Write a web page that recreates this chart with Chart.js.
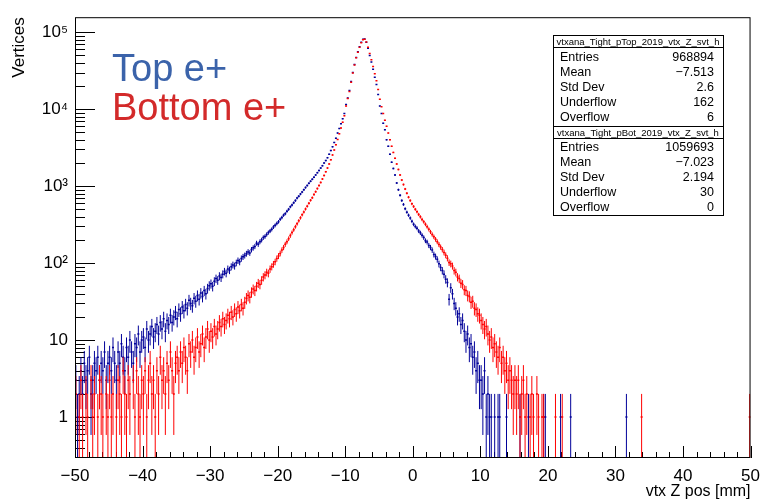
<!DOCTYPE html>
<html lang="en">
<head>
<meta charset="UTF-8">
<title>vtx Z pos - Top / Bottom e+</title>
<script src="https://cdn.jsdelivr.net/npm/chart.js"></script>
<style>
  body { margin: 0; background: #fff; }
  #wrap { width: 768px; height: 501px; }
</style>
</head>
<body>
<div id="wrap"><canvas id="zChart" width="768" height="501"></canvas></div>
<script>
// histogram binning (0.25 mm bins from -50 to 50)
const xMin = -50, xMax = 50, binWidth = 0.25;
const yMin = 0.294, yMax = 1.57e5;

// Top e+ counts per bin (20 bins = 5 mm per row)
const topCounts = [
  3, 1, 2, 4, 2, 5, 3, 4, 6, 2, 3, 5, 4, 6, 3, 5, 4, 7, 3, 5,
  6, 4, 8, 5, 3, 7, 5, 9, 6, 4, 8, 6, 10, 7, 5, 9, 8, 12, 7, 10,
  11, 8, 14, 10, 12, 15, 11, 13, 16, 12, 17, 14, 19, 13, 18, 16, 21, 17, 20, 23,
  19, 25, 22, 27, 24, 29, 26, 33, 30, 28, 35, 32, 38, 34, 41, 37, 44, 40, 47, 51,
  54, 50, 58, 63, 60, 68, 65, 72, 78, 74, 84, 81, 90, 95, 92, 101, 108, 104, 115, 121,
  126, 133, 140, 136, 150, 158, 165, 182, 176, 190, 200, 215, 222, 236, 250, 262, 275, 295, 310, 328,
  345, 372, 392, 420, 440, 472, 500, 540, 570, 610, 650, 700, 740, 790, 840, 900, 960, 1020, 1090, 1160,
  1230, 1310, 1400, 1500, 1600, 1720, 1850, 2000, 2150, 2350, 2600, 2900, 3250, 3700, 4200, 4900, 5600, 6500, 7500, 8800,
  11500, 14000, 17500, 23000, 30000, 38000, 47000, 56000, 65000, 74000, 81000, 82000, 74000, 62000, 50000, 41000, 33000, 26000, 21000, 15500,
  11000, 8800, 6600, 5400, 4000, 3300, 2600, 2050, 1700, 1400, 1100, 900, 760, 650, 580, 510, 460, 420, 385, 350,
  320, 300, 285, 262, 248, 230, 215, 196, 188, 170, 160, 148, 130, 122, 112, 98, 88, 80, 72, 62,
  56, 34, 48, 40, 30, 26, 20, 22, 16, 18, 13, 10, 12, 8, 9, 6, 7, 4, 5, 3,
  3, 2, 4, 1, 2, 1, 1, 0, 1, 0, 1, 1, 0, 0, 0, 1, 0, 0, 0, 0,
  0, 0, 0, 1, 0, 0, 0, 0, 1, 0, 0, 0, 0, 0, 0, 0, 0, 1, 1, 0,
  0, 0, 0, 0, 0, 0, 0, 1, 0, 0, 0, 0, 0, 1, 0, 0, 0, 0, 0, 0,
  0, 0, 0, 0, 0, 0, 0, 0, 0, 0, 0, 0, 0, 0, 0, 0, 0, 0, 0, 0,
  0, 0, 0, 0, 0, 0, 1, 0, 0, 0, 0, 0, 0, 0, 0, 0, 0, 0, 0, 0,
  0, 0, 0, 0, 0, 0, 0, 0, 0, 0, 0, 0, 0, 0, 0, 0, 0, 0, 0, 0,
  0, 0, 0, 0, 0, 0, 0, 0, 0, 0, 0, 0, 0, 0, 0, 0, 0, 0, 0, 0,
  0, 0, 0, 0, 0, 0, 0, 0, 0, 0, 0, 0, 0, 0, 0, 0, 0, 0, 0, 0
];

// Bottom e+ counts per bin
const botCounts = [
  2, 0, 1, 3, 1, 0, 2, 1, 0, 3, 1, 2, 0, 1, 3, 2, 1, 0, 2, 1,
  3, 1, 2, 0, 1, 3, 2, 1, 4, 2, 1, 3, 2, 0, 3, 1, 4, 2, 1, 3,
  2, 4, 1, 3, 5, 2, 3, 1, 4, 2, 6, 3, 4, 2, 5, 3, 7, 4, 2, 5,
  6, 4, 7, 5, 8, 6, 4, 9, 7, 10, 6, 8, 11, 7, 9, 12, 8, 11, 14, 10,
  13, 11, 15, 12, 14, 17, 15, 19, 16, 18, 21, 19, 23, 20, 25, 22, 27, 24, 29, 26,
  31, 35, 38, 36, 42, 46, 44, 50, 55, 53, 60, 66, 70, 76, 74, 84, 90, 97, 104, 115,
  124, 134, 148, 160, 176, 190, 208, 228, 250, 272, 298, 325, 355, 388, 425, 462, 505, 550, 600, 655,
  710, 780, 850, 930, 1020, 1120, 1240, 1380, 1540, 1720, 1950, 2200, 2550, 2950, 3450, 4050, 4800, 5700, 6800, 8200,
  11000, 13800, 17000, 22500, 29500, 37500, 46500, 55000, 64000, 73000, 80000, 81000, 75000, 64000, 53000, 44000, 36000, 29000, 23500, 18000,
  13500, 10800, 8800, 7200, 6000, 4900, 4000, 3300, 2750, 2300, 1950, 1650, 1400, 1200, 1050, 920, 810, 720, 650, 590,
  545, 500, 465, 430, 400, 370, 345, 320, 298, 275, 255, 236, 220, 204, 190, 175, 162, 150, 138, 127,
  116, 102, 98, 92, 80, 76, 66, 63, 55, 53, 45, 44, 38, 37, 31, 32, 26, 25, 22, 21,
  18, 16, 14, 15, 12, 10, 11, 8, 9, 7, 6, 8, 5, 6, 4, 5, 3, 4, 3, 2,
  3, 2, 3, 1, 2, 3, 1, 2, 0, 1, 2, 1, 0, 2, 1, 0, 1, 1, 0, 0,
  0, 0, 0, 0, 1, 0, 0, 0, 1, 0, 0, 0, 0, 0, 0, 0, 0, 0, 0, 0,
  0, 0, 0, 0, 0, 0, 0, 0, 0, 0, 0, 0, 0, 0, 0, 0, 0, 0, 0, 0,
  0, 0, 0, 0, 0, 0, 0, 0, 0, 0, 0, 0, 0, 0, 0, 1, 0, 0, 0, 0,
  0, 0, 0, 0, 0, 0, 0, 0, 0, 0, 0, 0, 0, 0, 0, 0, 0, 0, 0, 0,
  0, 0, 0, 0, 0, 0, 0, 0, 0, 0, 0, 0, 0, 0, 0, 0, 0, 0, 0, 0,
  0, 0, 0, 0, 0, 0, 0, 0, 0, 0, 0, 0, 0, 0, 0, 0, 0, 0, 0, 1
];

const xTickValues = [-50, -40, -30, -20, -10, 0, 10, 20, 30, 40, 50];
const yTickValues = [1, 10, 100, 1000, 10000, 100000];
const yTickLabels = ['1', '10', '10\u00B2', '10\u00B3', '10\u2074', '10\u2075'];

const topStats = [['Entries', '968894'], ['Mean', '\u22127.513'], ['Std Dev', '2.6'], ['Underflow', '162'], ['Overflow', '6']];
const botStats = [['Entries', '1059693'], ['Mean', '\u22127.023'], ['Std Dev', '2.194'], ['Underflow', '30'], ['Overflow', '0']];

const topColor = '#000099';
const botColor = '#ff0000';

function toPoints(counts) {
  const pts = [];
  counts.forEach((c, i) => {
    if (c > 0) pts.push({ x: xMin + binWidth * (i + 0.5), y: c });
  });
  return pts;
}

const FONT = 'Liberation Sans, Arial, sans-serif';

function drawStatBox(ctx, top, title, rows, rowYs, bottom) {
  const left = 553, right = 723;
  ctx.fillStyle = '#fff';
  ctx.fillRect(left, top, right - left, bottom - top);
  ctx.strokeStyle = '#000';
  ctx.lineWidth = 1;
  ctx.strokeRect(left + 0.5, top + 0.5, right - left, bottom - top);
  ctx.beginPath();
  ctx.moveTo(left, top + 12.5); ctx.lineTo(right, top + 12.5);
  ctx.stroke();
  ctx.fillStyle = '#000';
  ctx.textBaseline = 'middle';
  ctx.textAlign = 'center';
  ctx.font = '9.5px ' + FONT;
  ctx.fillText(title, (left + right) / 2, top + 7, right - left - 6);
  ctx.font = '12.5px ' + FONT;
  rows.forEach((r, i) => {
    ctx.textAlign = 'left';
    ctx.fillText(r[0], 560, rowYs[i]);
    ctx.textAlign = 'right';
    ctx.fillText(r[1], 714, rowYs[i]);
  });
}

const rootStyle = {
  id: 'rootStyle',
  beforeDatasetsDraw(chart) {
    const { ctx, chartArea: a, scales: { x, y } } = chart;
    ctx.save();
    ctx.strokeStyle = '#000';
    ctx.lineWidth = 1;
    ctx.beginPath();
    // x ticks, inward from the bottom
    for (let v = xMin; v <= xMax; v += 2) {
      const px = Math.round(x.getPixelForValue(v)) + 0.5;
      const len = v % 10 === 0 ? 12 : 6;
      ctx.moveTo(px, a.bottom); ctx.lineTo(px, a.bottom - len);
    }
    // y ticks, inward from the left
    for (let n = -1; n <= 5; n++) {
      for (let k = 1; k <= 9; k++) {
        const v = k * Math.pow(10, n);
        if (v < yMin || v > yMax) continue;
        const py = Math.round(y.getPixelForValue(v)) + 0.5;
        const len = k === 1 ? 20 : 10;
        ctx.moveTo(a.left, py); ctx.lineTo(a.left + len, py);
      }
    }
    ctx.stroke();
    ctx.restore();
  },
  beforeDatasetDraw(chart, args) {
    // vertical sqrt(N) error bars
    const { ctx, chartArea: a, scales: { y } } = chart;
    const ds = chart.data.datasets[args.index];
    ctx.save();
    ctx.beginPath();
    ctx.rect(a.left, a.top, a.right - a.left, a.bottom - a.top);
    ctx.clip();
    ctx.strokeStyle = ds.borderColor;
    ctx.lineWidth = 1;
    ctx.beginPath();
    args.meta.data.forEach((pt, i) => {
      const v = ds.data[i].y, e = Math.sqrt(v);
      const yHi = y.getPixelForValue(v + e);
      const yLo = v - e > yMin ? y.getPixelForValue(v - e) : a.bottom;
      ctx.moveTo(pt.x, yHi); ctx.lineTo(pt.x, yLo);
    });
    ctx.stroke();
    ctx.restore();
  },
  afterDatasetsDraw(chart) {
    const { ctx, chartArea: a } = chart;
    ctx.save();
    ctx.strokeStyle = '#000';
    ctx.lineWidth = 1;
    ctx.strokeRect(a.left + 0.5, a.top + 0.5, a.right - a.left - 1, a.bottom - a.top - 1);
    ctx.restore();
  },
  afterDraw(chart) {
    const { ctx } = chart;
    ctx.save();
    ctx.textBaseline = 'alphabetic';
    ctx.textAlign = 'left';
    ctx.font = '38px ' + FONT;
    ctx.fillStyle = '#3b63aa';
    ctx.fillText('Top e+', 112, 81);
    ctx.fillStyle = '#d32a2a';
    ctx.fillText('Bottom e+', 112, 120);
    drawStatBox(ctx, 35, 'vtxana_Tight_pTop_2019_vtx_Z_svt_h', topStats, [58, 73, 88, 103, 117.5], 126);
    drawStatBox(ctx, 126, 'vtxana_Tight_pBot_2019_vtx_Z_svt_h', botStats, [147.5, 162.5, 177.5, 192.5, 207.5], 215);
    ctx.restore();
  }
};

new Chart(document.getElementById('zChart'), {
  type: 'scatter',
  data: {
    datasets: [
      {
        label: 'Top e+',
        data: toPoints(topCounts),
        borderColor: topColor,
        backgroundColor: topColor,
        pointStyle: 'line',
        pointRadius: 1,
        pointHoverRadius: 1,
        pointBorderWidth: 1.5,
        showLine: false,
        order: 2
      },
      {
        label: 'Bottom e+',
        data: toPoints(botCounts),
        borderColor: botColor,
        backgroundColor: botColor,
        pointStyle: 'line',
        pointRadius: 1,
        pointHoverRadius: 1,
        pointBorderWidth: 1.5,
        showLine: false,
        order: 1
      }
    ]
  },
  plugins: [rootStyle],
  options: {
    responsive: false,
    animation: false,
    layout: { padding: { top: 8, right: 12, left: 0, bottom: 0 } },
    plugins: { legend: { display: false }, tooltip: { enabled: false } },
    scales: {
      x: {
        type: 'linear',
        min: xMin,
        max: xMax,
        grid: { display: false, drawTicks: false },
        border: { display: false },
        afterBuildTicks: s => { s.ticks = xTickValues.map(v => ({ value: v })); },
        ticks: {
          font: { family: FONT, size: 17 },
          color: '#000',
          padding: 8,
          maxRotation: 0,
          autoSkip: false,
          callback: v => String(v).replace('-', '\u2212')
        },
        title: {
          display: true,
          text: 'vtx Z pos [mm]',
          align: 'end',
          color: '#000',
          font: { family: FONT, size: 16 },
          padding: { top: 0, bottom: 0 }
        },
        afterFit: s => { s.height = 43; }
      },
      y: {
        type: 'logarithmic',
        min: yMin,
        max: yMax,
        grid: { display: false, drawTicks: false },
        border: { display: false },
        afterBuildTicks: s => { s.ticks = yTickValues.map(v => ({ value: v })); },
        ticks: {
          font: { family: FONT, size: 17 },
          color: '#000',
          padding: 7,
          autoSkip: false,
          callback: v => {
            const i = yTickValues.indexOf(v);
            return i >= 0 ? yTickLabels[i] : '';
          }
        },
        title: {
          display: true,
          text: 'Vertices',
          align: 'end',
          color: '#000',
          font: { family: FONT, size: 17 },
          padding: { top: 9, bottom: 0 }
        },
        afterFit: s => { s.width = 75; }
      }
    }
  }
});
</script>
</body>
</html>
